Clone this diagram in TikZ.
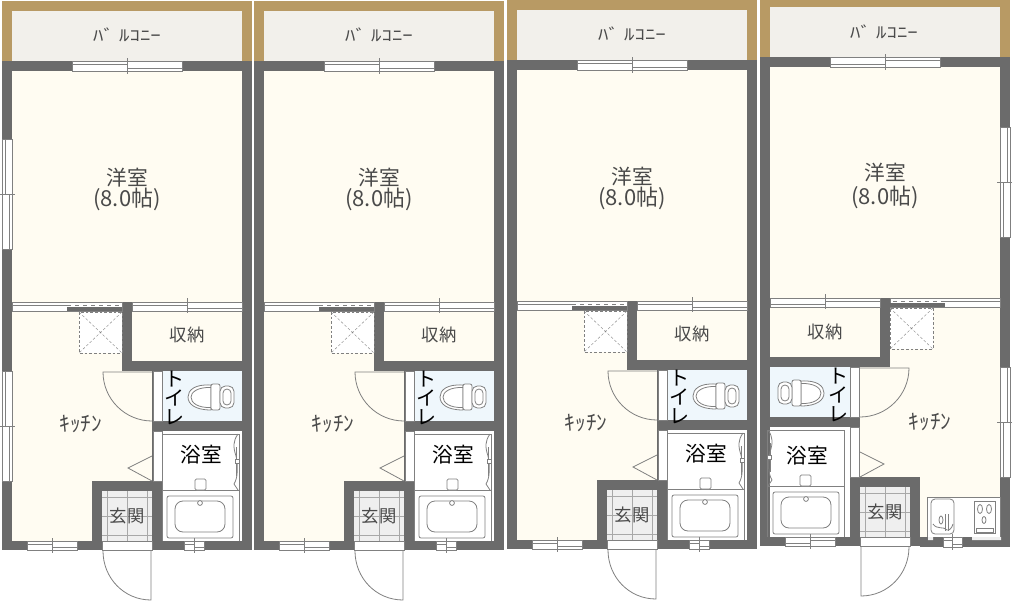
\documentclass[tikz,border=0pt]{standalone}
\usepackage{fontspec}
\newfontfamily\jp{Noto Sans CJK JP}
\definecolor{wallc}{HTML}{6B6B6B}
\definecolor{tanc}{HTML}{B89A64}
\definecolor{balc}{HTML}{F2F0EB}
\definecolor{floorc}{HTML}{FFFCF2}
\definecolor{wcc}{HTML}{EFF7FC}
\definecolor{tilec}{HTML}{EFEFEF}
\definecolor{linec}{HTML}{808080}
\definecolor{gridc}{HTML}{A8A8A8}
\definecolor{textc}{HTML}{4A4A4A}
\tikzset{
  px/.style={x=.75pt,y=-.75pt},
  wall/.style={fill=wallc,draw=none},
  thin line/.style={draw=linec,line width=.6pt},
  fix/.style={draw=linec,line width=.6pt,fill=white},
  open/.style={draw=linec,line width=.6pt,fill=white},
  lab/.style={text=textc,inner sep=0pt,font=\jp\fontsize{13}{15}\selectfont},
  big/.style={text=textc,inner sep=0pt,font=\jp\fontsize{15.5}{17}\selectfont},
  ratio/.style={text=textc,inner sep=0pt,font=\jp\fontsize{16.5}{18}\selectfont},
  dark/.style={text=black,inner sep=0pt,font=\jp\fontsize{15.5}{17}\selectfont},
  hw/.style={text=textc,inner sep=0pt,font=\jp\fontsize{12}{14}\selectfont,transform shape,xscale=1.3},
  kit/.style={text=textc,inner sep=0pt,font=\jp\fontsize{16}{18}\selectfont},
  vert/.style={text=black,inner sep=0pt,align=center,font=\jp\fontsize{15}{14.5}\selectfont},
}
% horizontal sliding window: x1 x2 y1 y2
\newcommand{\hwin}[4]{%
  \path[open] (#1,#3) rectangle (#2,#4);
  \path[thin line] (#1,#3+3) -- ({(#1+#2)/2},#3+3);
  \path[thin line] ({(#1+#2)/2},#4-3) -- (#2,#4-3);
  \path[thin line] ({(#1+#2)/2},#3-3) -- ({(#1+#2)/2},#4+3);
}
% vertical sliding window: x1 x2 y1 y2
\newcommand{\vwin}[4]{%
  \path[open] (#1,#3) rectangle (#2,#4);
  \path[thin line] (#1+3,#3) -- (#1+3,{(#3+#4)/2});
  \path[thin line] (#2-3,{(#3+#4)/2}) -- (#2-3,#4);
  \path[thin line] (#1-2,{(#3+#4)/2}) -- (#2+3,{(#3+#4)/2});
}
\newcommand{\bathfix}{%
  \path[thin line] (162,434) -- (239,434) -- (239,541);
  \path[thin line] (162,434) -- (162,541);
  \path[thin line] (162,490) -- (239,490);
  \path[fix,rounded corners=1pt] (195,479) rectangle (206,490);
  \path[fix,rounded corners=1.5pt] (167,496) rectangle (233,538);
  \path[fix,rounded corners=6pt] (175,501) rectangle (225,532);
  \path[fix] (200,503) circle[radius=2.4];
  \path[thin line] (238,434) .. controls (233,441) and (233,447) .. (236,456) .. controls (238,466) and (238,478) .. (234,484) -- (238,490);
  \path[thin line] (236,447) -- (236,476);
  \path[fix] (235,459) rectangle (239,463);
}
\newcommand{\plan}{%
  % balcony
  \fill[tanc] (2,1) rectangle (252,61);
  \fill[balc] (12,11) rectangle (242,61);
  % walls block
  \path[wall] (2,61) rectangle (252,550);
  % rooms
  \fill[floorc] (12,71) rectangle (242,302);
  \fill[floorc] (12,311) rectangle (92,541);
  \fill[floorc] (92,311) rectangle (122,481);
  \fill[floorc] (122,371) rectangle (152,481);
  \fill[floorc] (132,311) rectangle (242,361);
  \fill[wcc] (162,371) rectangle (242,421);
  \fill[white] (162,431) rectangle (242,541);
  \fill[tilec] (102,491) rectangle (152,541);
  % genkan tile grid
  \path[draw=gridc,line width=.4pt] (107,491) -- (107,541) (127,491) -- (127,541) (147,491) -- (147,541)
     (102,497) -- (152,497) (102,516) -- (152,516) (102,535) -- (152,535);
  % partition sliding doors
  \path[open] (12,302) rectangle (122,311);
  \path[thin line] (12,305) -- (67,305);
  \path[thin line,dashed] (67,305) -- (122,305);
  \path[wall] (67,307) rectangle (122,311);
  \path[open] (132,302) rectangle (242,311);
  \path[thin line] (132,305) -- (187,305) (187,308) -- (242,308) (187,298) -- (187,313);
  % closet box
  \path[draw=linec,line width=.5pt,dash pattern=on 2pt off 1.5pt,fill=white] (79,312) rectangle (122,353);
  \path[draw=linec,line width=.3pt,dash pattern=on 2pt off 1.5pt] (79,312) -- (122,353) (122,312) -- (79,353);
  % door openings
  \path[open] (153,371) rectangle (162,421);
  \path[open] (153,431) rectangle (162,481);
  \path[open] (102,541) rectangle (152,550);
  % top window
  \hwin{72}{182}{61}{71}
  % doors
  \path[thin line] (152,372) -- (103,372) .. controls (103,399) and (125,421) .. (152,421);
  \path[thin line] (152,456) -- (128,468) -- (152,481);
  \path[thin line] (151,551) -- (151,600) .. controls (124,600) and (103,578) .. (103,551);
  % toilet
  \path[fix] (211,385) .. controls (195,384) and (188,390) .. (188,397) .. controls (188,404) and (195,410) .. (211,410) -- cycle;
  \path[thin line] (211,387.5) .. controls (198,387) and (191,392) .. (191,397) .. controls (191,403) and (198,408) .. (211,407.5);
  \path[fix,rounded corners=1.5pt] (211,384) rectangle (220,410);
  \path[fix,rounded corners=4pt] (220,386) rectangle (234,408);
  \path[thin line,rounded corners=3pt] (223,389) rectangle (231,405);
}
\newcommand{\ulabels}[1]{%
  \node[hw] (#1bal) at (127,35) {ﾊﾞ\hspace{3pt}ﾙｺﾆｰ};
  \node[big] (#1yo) at (127,178) {洋室};
  \node[ratio] (#1ja) at (127,199) {(8.0帖)};
  \node[lab] (#1sh) at (187,335) {収納};
  \node[kit] (#1ki) at (81,424) {ｷｯﾁﾝ};
  \node[vert] (#1to) at (174,398) {ト\\イ\\レ};
  \node[dark] (#1yu) at (201,455) {浴室};
  \node[lab] (#1ge) at (127,516) {玄関};
}
\begin{document}
\begin{tikzpicture}[px]
\useasboundingbox (0,0) rectangle (1015,603);
\fill[white] (0,0) rectangle (1015,603);
% unit 1
\begin{scope}
  \plan \bathfix
  \hwin{27}{77}{541}{550}
  \hwin{184}{204}{541}{550}
  \vwin{2}{12}{139}{249}
  \vwin{2}{12}{371}{481}
  \ulabels{a}
\end{scope}
% unit 2
\begin{scope}[shift={(252,0)}]
  \plan \bathfix
  \hwin{27}{77}{541}{550}
  \hwin{184}{204}{541}{550}
  \ulabels{b}
\end{scope}
% unit 3
\begin{scope}[shift={(505,-1)}]
  \plan \bathfix
  \hwin{27}{77}{541}{550}
  \hwin{184}{204}{541}{550}
  \ulabels{c}
\end{scope}
% unit 4 (mirrored)
\begin{scope}[x=-.75pt,shift={(-1012,-4)}]
  \plan
  \begin{scope}[shift={(6,0)}]\bathfix\end{scope}
  \hwin{177}{227}{541}{550}
  \hwin{50}{69}{541}{550}
  \vwin{2}{12}{131}{241}
  \vwin{2}{12}{371}{481}
\end{scope}
% kitchen counter of unit 4
\path[fix] (927,497) rectangle (1000,537);
\path[wall] (920,537) rectangle (1010,547);
\hwin{943}{962}{537}{547}
\path[fill=tilec,draw=none] (928,537) rectangle (933,540) (972,537) rectangle (1001,540);
\path[fix,rounded corners=3pt] (931,499) rectangle (954,534);
\path[thin line] (933,524) .. controls (937,530) and (944,526) .. (947,530) .. controls (949,531) and (952,528) .. (953,524);
\path[thin line] (945,514) -- (945,531) (948,514) -- (948,531);
\path[thin line] (941,520) circle[x radius=2,y radius=4];
\path[fix] (974,501) rectangle (995,533);
\path[thin line] (980,509) circle[x radius=2.5,y radius=4.5];
\path[thin line] (989,509) circle[x radius=2.5,y radius=4.5];
\path[thin line] (984,520) circle[x radius=2,y radius=3.5];
\path[fix] (976,528) rectangle (993,532);
% unit 4 labels
\node[hw] (dbal) at (884,32) {ﾊﾞ\hspace{3pt}ﾙｺﾆｰ};
\node[big] (dyo) at (885,173) {洋室};
\node[ratio] (dja) at (885,197) {(8.0帖)};
\node[lab] (dsh) at (825,332) {収納};
\node[kit] (dki) at (930,422) {ｷｯﾁﾝ};
\node[vert] (dto) at (838,395) {ト\\イ\\レ};
\node[dark] (dyu) at (807,456) {浴室};
\node[lab] (dge) at (885,512) {玄関};
\end{tikzpicture}
\end{document}
